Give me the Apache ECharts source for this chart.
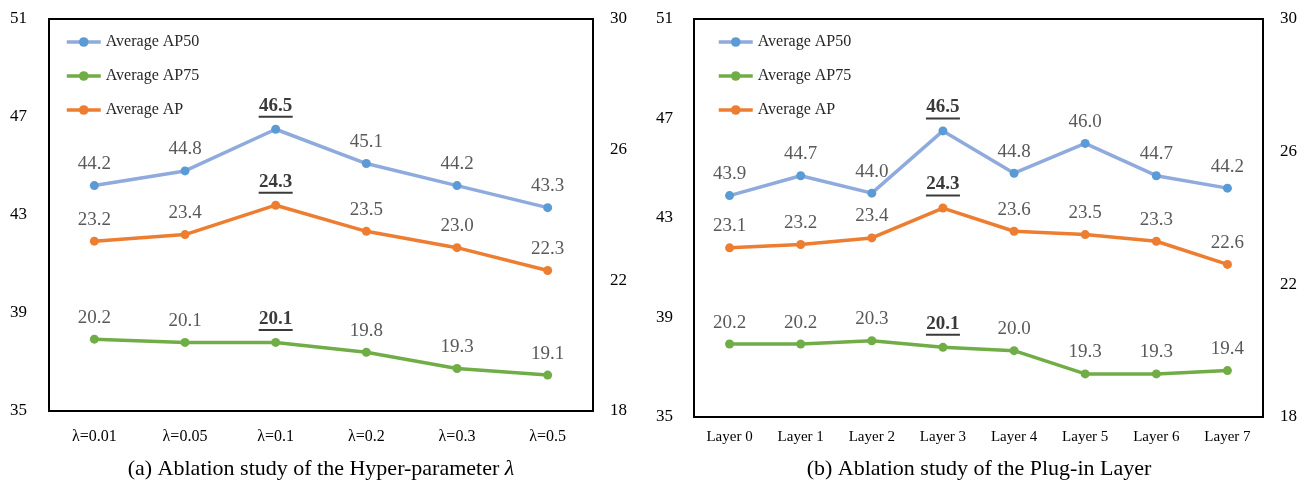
<!DOCTYPE html>
<html><head><meta charset="utf-8">
<script src="https://cdn.jsdelivr.net/npm/echarts@6/dist/echarts.min.js"></script>
<style>html,body{margin:0;padding:0;background:#fff}#c{width:1311px;height:488px}</style>
</head><body><div id="c"></div>
<script>
// ---- data ----
const catsA = ['λ=0.01', 'λ=0.05', 'λ=0.1', 'λ=0.2', 'λ=0.3', 'λ=0.5'];
const ap50A = [44.2, 44.8, 46.5, 45.1, 44.2, 43.3];
const ap75A = [20.2, 20.1, 20.1, 19.8, 19.3, 19.1];
const apA   = [23.2, 23.4, 24.3, 23.5, 23.0, 22.3];
const highlightA = 2;

const catsB = ['Layer 0', 'Layer 1', 'Layer 2', 'Layer 3', 'Layer 4', 'Layer 5', 'Layer 6', 'Layer 7'];
const ap50B = [43.9, 44.7, 44.0, 46.5, 44.8, 46.0, 44.7, 44.2];
const ap75B = [20.2, 20.2, 20.3, 20.1, 20.0, 19.3, 19.3, 19.4];
const apB   = [23.1, 23.2, 23.4, 24.3, 23.6, 23.5, 23.3, 22.6];
const highlightB = 3;

const leftTicks = [35, 39, 43, 47, 51];
const rightTicks = [18, 22, 26, 30];
const seriesNames = ['Average AP50', 'Average AP75', 'Average AP'];
const captionA = '(a) Ablation study of the Hyper-parameter ';
const captionAItalic = 'λ';
const captionB = '(b) Ablation study of the Plug-in Layer';

// ---- styles ----
const FONT = '"Liberation Serif", "Times New Roman", serif';
const styles = [
  { line: '#8FAADC', mark: '#5B9BD5' },
  { line: '#70AD47', mark: '#70AD47' },
  { line: '#ED7D31', mark: '#ED7D31' }
];

function makeLabel(hi) {
  return {
    show: true,
    position: 'top',
    distance: 7,
    fontFamily: FONT,
    fontSize: 19,
    color: '#595959',
    formatter: function (p) {
      const s = Number(p.value).toFixed(1);
      return p.dataIndex === hi ? '{b|' + s + '}\n{u| }' : '{n|' + s + '}';
    },
    rich: {
      n: { fontFamily: FONT, fontSize: 19, color: '#595959', lineHeight: 20, align: 'center' },
      b: { fontFamily: FONT, fontSize: 19, fontWeight: 'bold', color: '#3a3a3a', lineHeight: 20, align: 'center' },
      u: { width: 34, height: 2, lineHeight: 2, fontSize: 1, backgroundColor: '#3a3a3a', align: 'center' }
    }
  };
}

function mkSeries(name, idx, data, xi, yi, hi) {
  return {
    name: name,
    type: 'line',
    xAxisIndex: xi,
    yAxisIndex: yi,
    data: data,
    symbol: 'circle',
    symbolSize: 9,
    lineStyle: { color: styles[idx].line, width: 3.5 },
    itemStyle: { color: styles[idx].mark },
    label: makeLabel(hi),
    animation: false,
    z: 3
  };
}

function yAx(gi, pos, min, max, ticks, margin) {
  return {
    type: 'value', gridIndex: gi, position: pos, min: min, max: max,
    axisLine: { show: false }, axisTick: { show: false }, splitLine: { show: false },
    axisLabel: { customValues: ticks, fontFamily: FONT, fontSize: 17, color: '#000', margin: margin }
  };
}

const legendCommon = {
  orient: 'vertical', itemWidth: 34, itemHeight: 12, itemGap: 18, padding: 0,
  lineStyle: { width: 3.5 },
  textStyle: { fontFamily: FONT, fontSize: 16, color: '#262626' },
  data: seriesNames
};

const option = {
  backgroundColor: '#fff',
  animation: false,
  title: [
    { text: '{t|' + captionA + '}{i|' + captionAItalic + '}', left: 321, top: 458, padding: 0, textAlign: 'center',
      textStyle: { fontWeight: 'normal', fontFamily: FONT, fontSize: 22,
        rich: { t: { fontFamily: FONT, fontSize: 22, fontWeight: 'normal', color: '#000' },
                i: { fontFamily: FONT, fontSize: 22, fontWeight: 'normal', fontStyle: 'italic', color: '#000' } } } },
    { text: captionB, left: 979, top: 458, padding: 0, textAlign: 'center',
      textStyle: { fontFamily: FONT, fontSize: 22, fontWeight: 'normal', color: '#000' } }
  ],
  legend: [
    Object.assign({ left: 65, top: 34 }, legendCommon),
    Object.assign({ left: 717, top: 34 }, legendCommon)
  ],
  grid: [
    { left: 49, top: 19, width: 544, height: 392, show: true, borderColor: '#000', borderWidth: 2, backgroundColor: 'transparent' },
    { left: 694, top: 19, width: 569, height: 398, show: true, borderColor: '#000', borderWidth: 2, backgroundColor: 'transparent' }
  ],
  xAxis: [
    { type: 'category', gridIndex: 0, data: catsA, boundaryGap: true,
      axisLine: { show: false }, axisTick: { show: false },
      axisLabel: { fontFamily: FONT, fontSize: 16, color: '#000', margin: 18 } },
    { type: 'category', gridIndex: 1, data: catsB, boundaryGap: true,
      axisLine: { show: false }, axisTick: { show: false },
      axisLabel: { fontFamily: FONT, fontSize: 15, color: '#000', margin: 13, interval: 0 } }
  ],
  yAxis: [
    yAx(0, 'left', 35, 51, leftTicks, 22),
    yAx(0, 'right', 18, 30, rightTicks, 17),
    yAx(1, 'left', 35, 51, leftTicks, 21),
    yAx(1, 'right', 18, 30, rightTicks, 17)
  ],
  series: [
    mkSeries(seriesNames[0], 0, ap50A, 0, 0, highlightA),
    mkSeries(seriesNames[1], 1, ap75A, 0, 1, highlightA),
    mkSeries(seriesNames[2], 2, apA, 0, 1, highlightA),
    mkSeries(seriesNames[0], 0, ap50B, 1, 2, highlightB),
    mkSeries(seriesNames[1], 1, ap75B, 1, 3, highlightB),
    mkSeries(seriesNames[2], 2, apB, 1, 3, highlightB)
  ]
};

const chart = echarts.init(document.getElementById('c'), null, { renderer: 'canvas' });
chart.setOption(option);
</script>
</body></html>
